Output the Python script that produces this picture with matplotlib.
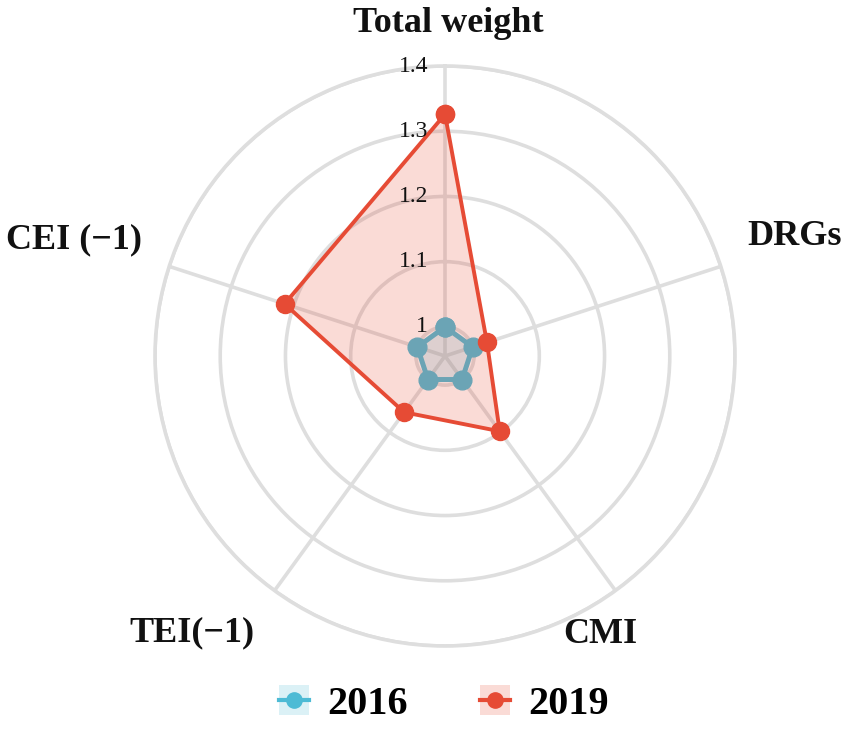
import numpy as np
import matplotlib
matplotlib.use('Agg')
import matplotlib.pyplot as plt
from matplotlib.patches import Patch
from matplotlib.lines import Line2D

plt.rcParams['font.family'] = ['Liberation Serif', 'DejaVu Serif']

# ------------------------------------------------------------------
# Data
# ------------------------------------------------------------------
categories = ['Total weight', 'DRGs', 'CMI', 'TEI(\u22121)', 'CEI (\u22121)']
values_2016 = [1.0, 1.0, 1.0, 1.0, 1.0]
values_2019 = [1.326, 1.023, 1.098, 1.062, 1.214]
r_ticks = [1.0, 1.1, 1.2, 1.3, 1.4]
r_tick_labels = ['1', '1.1', '1.2', '1.3', '1.4']
series_names = ['2016', '2019']
series_colors = ['#4DBBD5', '#E64B35']

# label offsets from the outer ring (pixels)
label_offsets = [(3, 42), (74, 30), (-15, -44), (-83, -42), (-95, 27)]

grid_color = '#DEDEDE'

fig = plt.figure(figsize=(8.51, 7.38), dpi=100)
ax = fig.add_axes([155 / 851, 1 - 646 / 738, 580 / 851, 580 / 738], polar=True)
ax.set_theta_offset(np.pi / 2)
ax.set_theta_direction(-1)

n = len(categories)
angles = np.linspace(0, 2 * np.pi, n, endpoint=False)
ang_closed = np.append(angles, angles[0])

r_min, r_max = 0.9554, 1.4
ax.set_ylim(r_min, r_max)

# grid
ax.set_yticks(r_ticks)
ax.set_yticklabels([])
ax.set_xticks(angles)
ax.set_xticklabels([])
ax.grid(True, color=grid_color, linewidth=2.6)
ax.spines['polar'].set_color(grid_color)
ax.spines['polar'].set_linewidth(2.6)
ax.tick_params(length=0)
ax.set_facecolor('white')

# series
for vals, name, col, lw, ms, z in zip([values_2016, values_2019], series_names,
                                       series_colors, [3.6, 2.8], [13.5, 13], [3, 5]):
    v = np.append(vals, vals[0])
    ax.fill(ang_closed, v, color=col, alpha=0.2, zorder=z, linewidth=0)
    ax.plot(ang_closed, v, color=col, linewidth=lw, marker='o', markersize=ms,
            zorder=z - 1 if name == '2016' else z + 1, clip_on=False)

# radial labels
for rt, lab in zip(r_ticks, r_tick_labels):
    ax.annotate(lab, xy=(0, rt), xytext=(-17, 0), textcoords='offset pixels',
                ha='right', va='center', fontsize=17, color='#111111',
                annotation_clip=False, zorder=10)

# category labels
for ang, lab, off in zip(angles, categories, label_offsets):
    ax.annotate(lab, xy=(ang, r_max), xytext=off, textcoords='offset pixels',
                ha='center', va='center', fontsize=26, fontweight='bold',
                color='#111111', annotation_clip=False)

# legend
handles = []
for col in series_colors:
    handles.append((Patch(facecolor=col, alpha=0.2, edgecolor='none'),
                    Line2D([0], [0], color=col, linewidth=3, marker='o', markersize=11)))
fig.legend(handles, series_names, loc='center', bbox_to_anchor=(444 / 851, 1 - 704 / 738),
           ncol=2, frameon=False, handlelength=0.75, handleheight=0.75,
           handletextpad=0.45, columnspacing=1.8,
           prop={'family': 'Liberation Serif', 'weight': 'bold', 'size': 29})

fig.savefig('out.png', dpi=100, facecolor='white')
